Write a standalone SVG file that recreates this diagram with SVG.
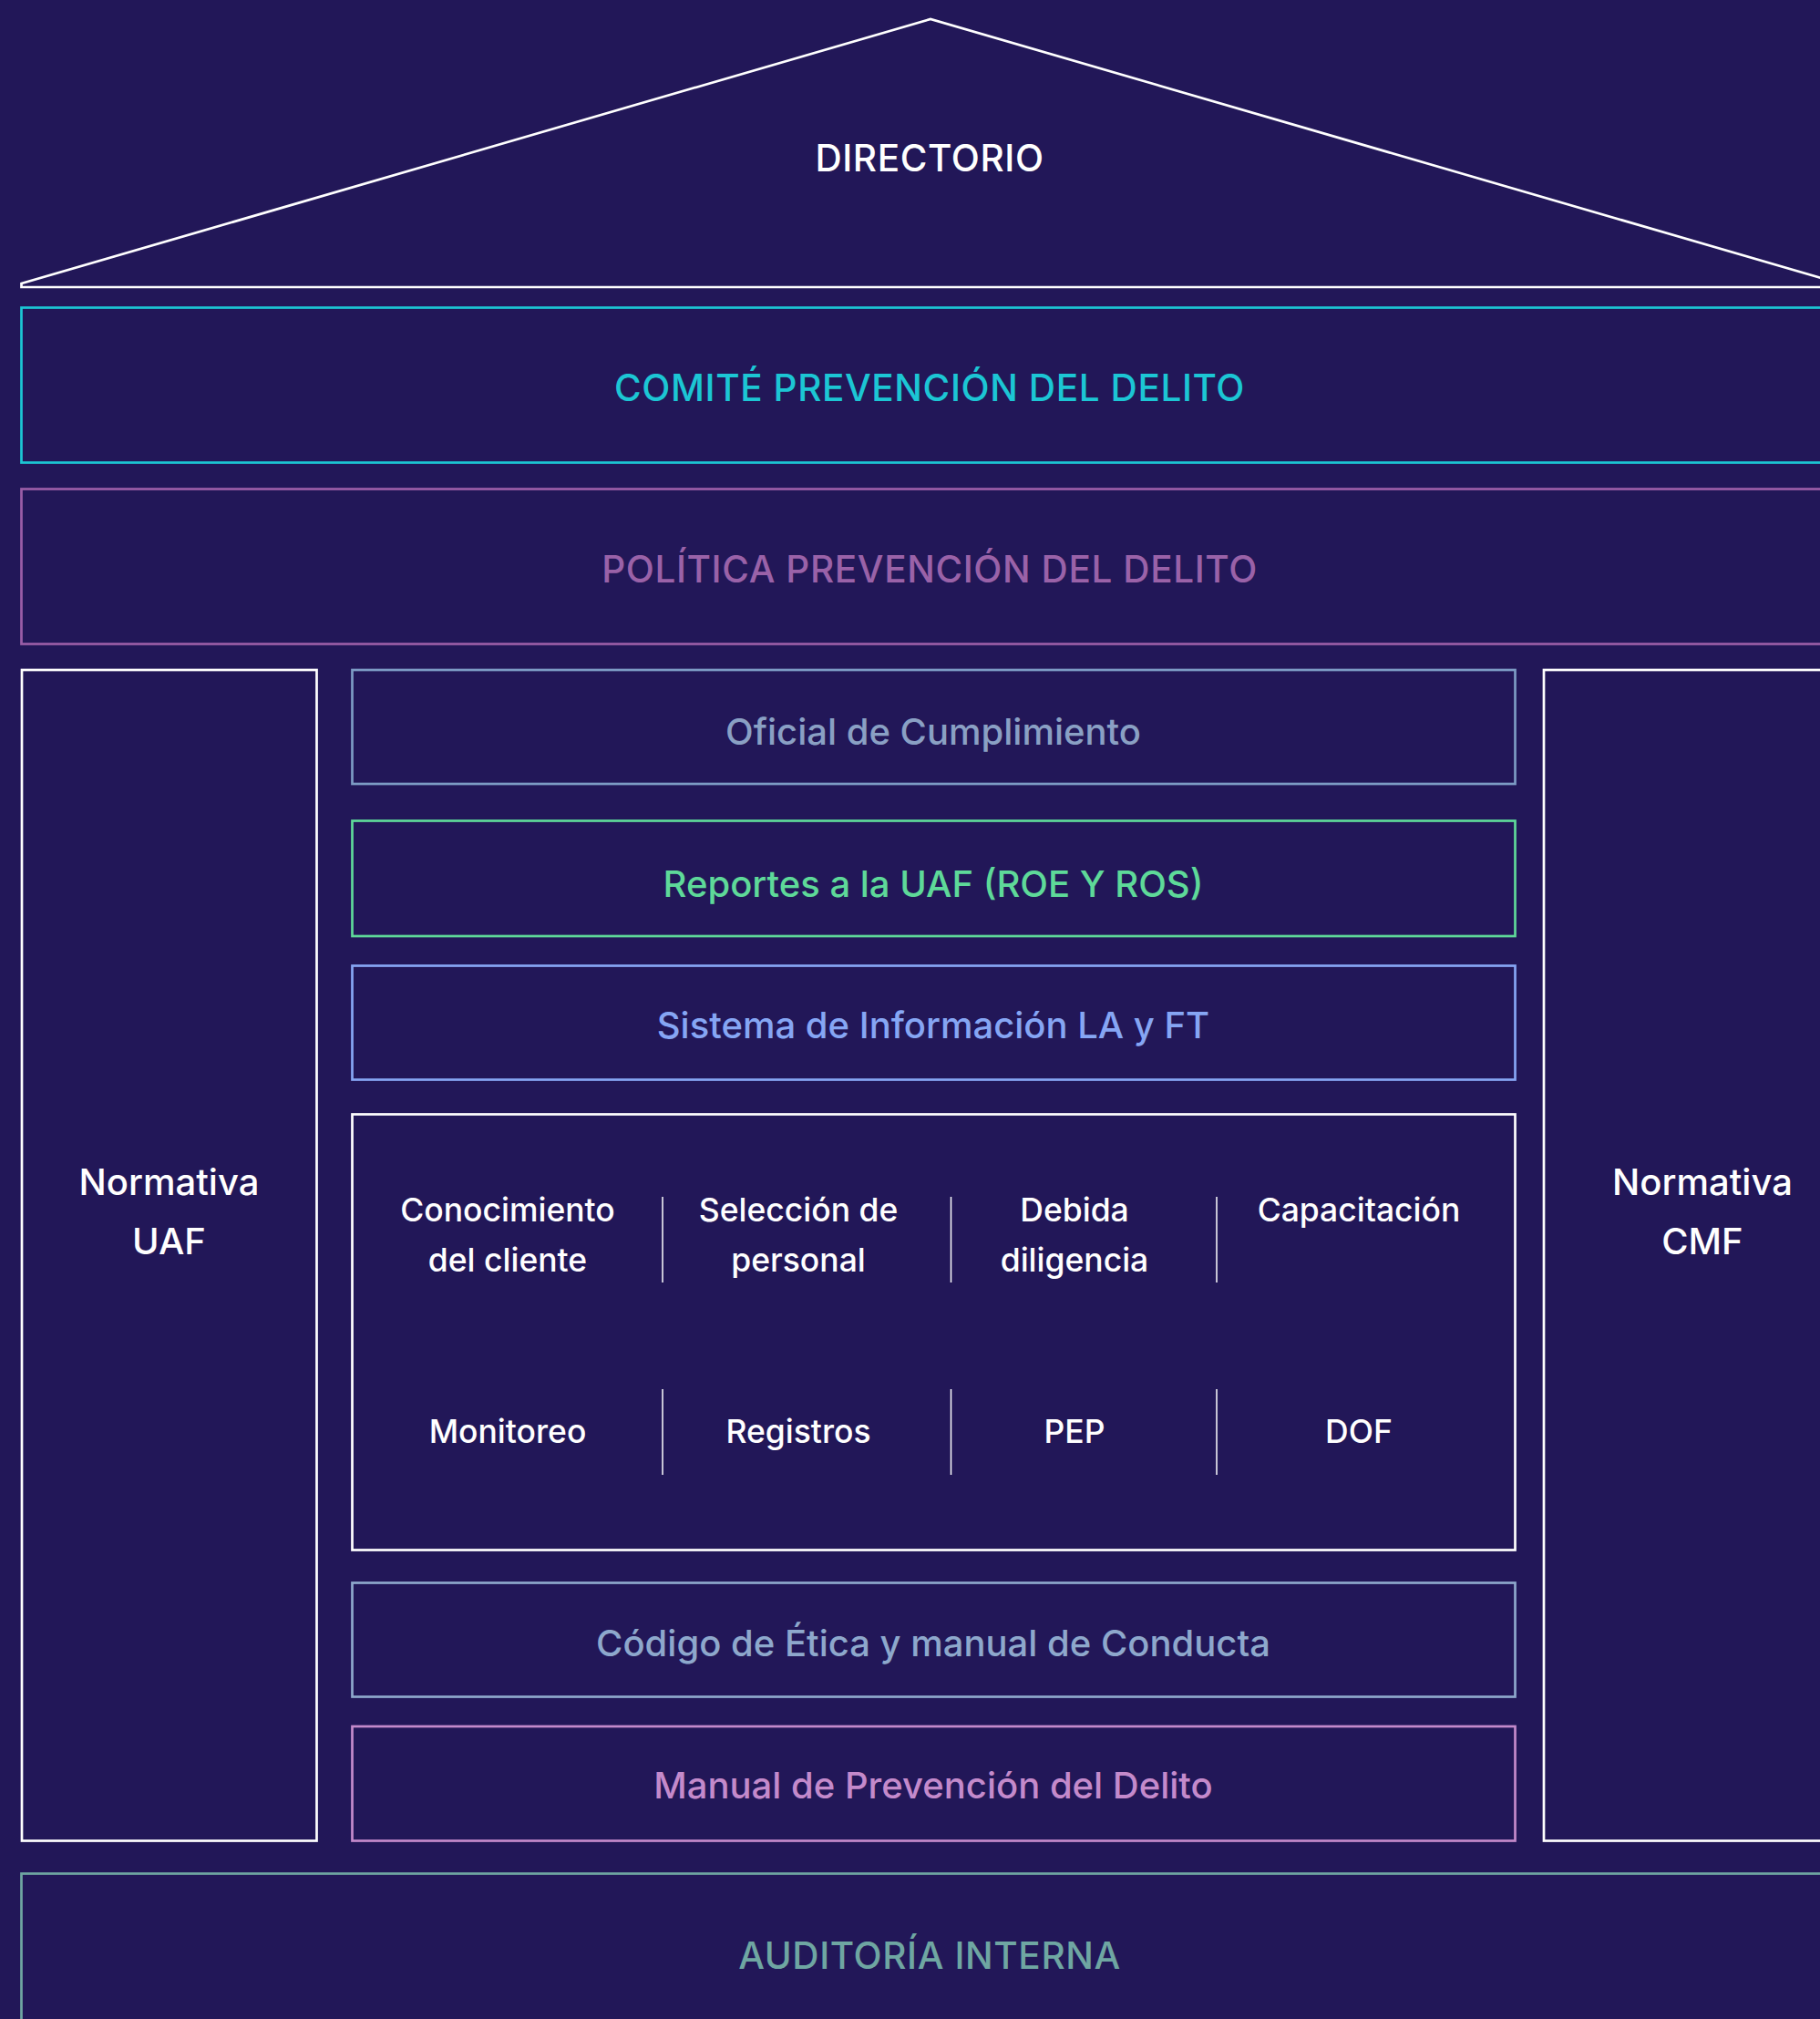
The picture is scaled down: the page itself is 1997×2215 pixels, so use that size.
<svg xmlns="http://www.w3.org/2000/svg" width="1997" height="2215" viewBox="0 0 1997 2215">
<style>
.bx{fill:none;stroke-width:2.7}
.w{stroke:#FFFFFF}
.t{font-family:Inter,"Noto Sans","Liberation Sans",sans-serif;text-anchor:middle;font-weight:500}
.big{font-size:40px}
.cap{font-size:40.5px;letter-spacing:0.6px}
.sm{font-size:35.5px}
.div{stroke:#FFFFFF;stroke-width:1.5}
</style>
<rect x="0" y="0" width="1997" height="2215" fill="#221758"/>
<g id="directorio">
<polygon class="bx w" points="23.5,315 23.5,311 1021,21 2019,311 2019,315" stroke-linejoin="miter"/>
<text class="t cap" x="1020" y="188" fill="#FFFFFF">DIRECTORIO</text>
</g>
<g id="comite">
<rect class="bx" x="23.5" y="337.5" width="2000" height="170" stroke="#1CC6D4"/>
<text class="t cap" x="1020" y="440" fill="#1CC6D4">COMITÉ PREVENCIÓN DEL DELITO</text>
</g>
<g id="politica">
<rect class="bx" x="23.5" y="536.5" width="2000" height="170" stroke="#9A5DA6"/>
<text class="t cap" x="1020" y="639" fill="#9A62A8">POLÍTICA PREVENCIÓN DEL DELITO</text>
</g>
<g id="normativa-uaf">
<rect class="bx w" x="24" y="735" width="323.5" height="1284.5"/>
<text class="t big" x="185.5" y="1311" fill="#FFFFFF">Normativa</text>
<text class="t big" x="185.5" y="1376" fill="#FFFFFF">UAF</text>
</g>
<g id="normativa-cmf">
<rect class="bx w" x="1694" y="735" width="348" height="1284.5"/>
<text class="t big" x="1868" y="1311" fill="#FFFFFF">Normativa</text>
<text class="t big" x="1868" y="1376" fill="#FFFFFF">CMF</text>
</g>
<g id="oficial">
<rect class="bx" x="386.5" y="735" width="1276" height="125" stroke="#7C9BC4"/>
<text class="t big" x="1024" y="817" fill="#8AA0C4">Oficial de Cumplimiento</text>
</g>
<g id="reportes">
<rect class="bx" x="386.5" y="900.5" width="1276" height="126.5" stroke="#5ED999"/>
<text class="t big" x="1024" y="984" fill="#5ED999">Reportes a la UAF (ROE Y ROS)</text>
</g>
<g id="sistema">
<rect class="bx" x="386.5" y="1059.5" width="1276" height="125" stroke="#86A6F4"/>
<text class="t big" x="1024" y="1139" fill="#86A6F4">Sistema de Información LA y FT</text>
</g>
<g id="controles">
<rect class="bx w" x="386.5" y="1222.5" width="1276" height="478"/>
<text class="t sm" x="557" y="1340" fill="#FFFFFF">Conocimiento</text>
<text class="t sm" x="557" y="1395" fill="#FFFFFF">del cliente</text>
<text class="t sm" x="876" y="1340" fill="#FFFFFF">Selección de</text>
<text class="t sm" x="876" y="1395" fill="#FFFFFF">personal</text>
<text class="t sm" x="1179" y="1340" fill="#FFFFFF">Debida</text>
<text class="t sm" x="1179" y="1395" fill="#FFFFFF">diligencia</text>
<text class="t sm" x="1491" y="1340" fill="#FFFFFF">Capacitación</text>
<text class="t sm" x="557" y="1583" fill="#FFFFFF">Monitoreo</text>
<text class="t sm" x="876" y="1583" fill="#FFFFFF">Registros</text>
<text class="t sm" x="1179" y="1583" fill="#FFFFFF">PEP</text>
<text class="t sm" x="1491" y="1583" fill="#FFFFFF">DOF</text>
<line class="div" x1="727" y1="1313" x2="727" y2="1407"/>
<line class="div" x1="1043.5" y1="1313" x2="1043.5" y2="1407"/>
<line class="div" x1="1335" y1="1313" x2="1335" y2="1407"/>
<line class="div" x1="727" y1="1524" x2="727" y2="1618"/>
<line class="div" x1="1043.5" y1="1524" x2="1043.5" y2="1618"/>
<line class="div" x1="1335" y1="1524" x2="1335" y2="1618"/>
</g>
<g id="codigo">
<rect class="bx" x="386.5" y="1736.5" width="1276" height="125" stroke="#8EA8CC"/>
<text class="t big" x="1024" y="1817" fill="#8EA8CC">Código de Ética y manual de Conducta</text>
</g>
<g id="manual">
<rect class="bx" x="386.5" y="1894" width="1276" height="125.5" stroke="#C48ACB"/>
<text class="t big" x="1024" y="1973" fill="#C48ACB">Manual de Prevención del Delito</text>
</g>
<g id="auditoria">
<rect class="bx" x="23.5" y="2055.5" width="2000" height="200" stroke="#6FA6A2"/>
<text class="t cap" x="1020" y="2160" fill="#6FA6A2">AUDITORÍA INTERNA</text>
</g>
<g id="connectors"/>
</svg>
